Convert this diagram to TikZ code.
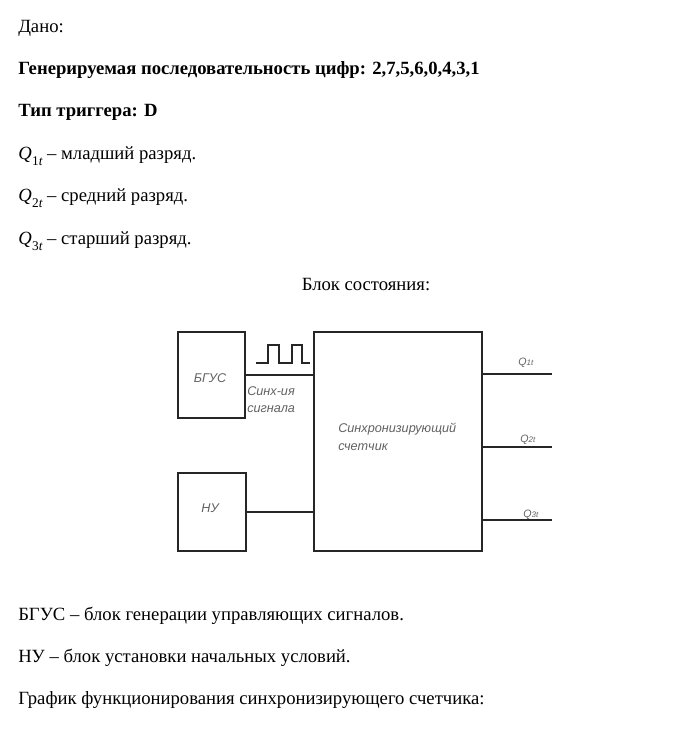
\documentclass[tikz,border=0pt]{standalone}
\usepackage{fontspec}
\setmainfont{Liberation Serif}
\newfontfamily\gostfont{Liberation Sans}
\newcommand{\Qsub}[1]{{\itshape Q}\kern0.3pt\raisebox{-0.28em}{\fontsize{10}{10}\selectfont #1\itshape t}}
\newcommand{\Qsmall}[1]{Q\raisebox{-0.05em}{\fontsize{6}{6}\selectfont #1t}}
\begin{document}
\begin{tikzpicture}[x=0.75pt,y=-0.75pt,
  blk/.style={draw=black!85, line width=1.1pt, rectangle, inner sep=0pt},
  wire/.style={draw=black!85, line width=1.1pt},
  lbl/.style={font=\gostfont\itshape\fontsize{9.5}{11}\selectfont, text=black!62, inner sep=0pt},
  qlbl/.style={font=\gostfont\itshape\fontsize{8}{9}\selectfont, text=black!62, inner sep=0pt, anchor=base west},
  body/.style={anchor=base west, font=\fontsize{14}{16}\selectfont, inner sep=0pt},
  bbody/.style={body, font=\fontsize{14}{16}\selectfont\bfseries}]
\useasboundingbox (0,0) rectangle (679,755);
% header text
\node[body] (t1) at (18,33) {Дано:};
\node[bbody] (t2) at (18,75) {Генерируемая последовательность цифр: 2,7,5,6,0,4,3,1};
\node[bbody] (t3) at (18,117) {Тип триггера: D};
\node[body] (t4) at (18,160) {\Qsub{1} – младший разряд.};
\node[body] (t5) at (18,202) {\Qsub{2} – средний разряд.};
\node[body] (t6) at (18,245) {\Qsub{3} – старший разряд.};
\node[body, anchor=base] (t7) at (366,290) {Блок состояния:};
% blocks
\node[blk, minimum width=50.25pt, minimum height=64.5pt] (bgus) at (211.5,375) {};
\node[blk, minimum width=51pt, minimum height=58.5pt] (nu) at (212,512) {};
\node[blk, minimum width=126pt, minimum height=164.25pt] (main) at (398,441.5) {};
\node[lbl] (bgusl) at (210,378) {БГУС};
\node[lbl] (nul) at (210,508) {НУ};
\node[lbl, anchor=base west] (sig1) at (247,395) {Синх-ия};
\node[lbl, anchor=base west] (sig2) at (247,412) {сигнала};
\node[lbl, anchor=base west] (cnt1) at (338,432) {Синхронизирующий};
\node[lbl, anchor=base west] (cnt2) at (338,450) {счетчик};
% connectors
\draw[wire] (bgus.east) -- (main.west |- bgus.east);
\draw[wire] (nu.east) -- (main.west |- nu.east);
\coordinate (q1) at (552,374);
\coordinate (q2) at (552,447);
\coordinate (q3) at (552,520);
\draw[wire] (main.east |- q1) -- (q1);
\draw[wire] (main.east |- q2) -- (q2);
\draw[wire] (main.east |- q3) -- (q3);
\node[qlbl] (q1l) at (518,365) {\Qsmall{1}};
\node[qlbl] (q2l) at (520,442) {\Qsmall{2}};
\node[qlbl] (q3l) at (523,517) {\Qsmall{3}};
% pulse train
\draw[wire, line width=0.9pt] (256,363) -- (268,363) -- (268,345) -- (279,345) -- (279,363) -- (292,363) -- (292,345) -- (302,345) -- (302,363) -- (310,363);
% bottom text
\node[body] (b1) at (18,620) {БГУС – блок генерации управляющих сигналов.};
\node[body] (b2) at (18,662) {НУ – блок установки начальных условий.};
\node[body] (b3) at (18,704) {График функционирования синхронизирующего счетчика:};
\end{tikzpicture}
\end{document}
